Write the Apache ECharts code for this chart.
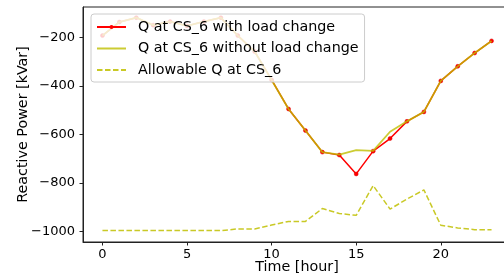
<!DOCTYPE html>
<html>
<head>
<meta charset="utf-8">
<script src="https://cdn.jsdelivr.net/npm/echarts@6/dist/echarts.min.js"></script>
<style>
html,body{margin:0;padding:0;background:#fff;}
#chart{width:504px;height:275px;}
</style>
</head>
<body>
<div id="chart"></div>
<script>
var hours = [0,1,2,3,4,5,6,7,8,9,10,11,12,13,14,15,16,17,18,19,20,21,22,23];
var qWithLoad = [-192,-136,-118,-149,-134,-152,-134,-118,-192,-258,-375,-495,-584,-673,-685,-763,-669,-617,-546,-507,-379,-319,-264,-214];
var qWithoutLoad = [-192,-136,-118,-149,-134,-152,-134,-118,-192,-258,-375,-495,-584,-673,-683,-665,-668,-589,-546,-507,-379,-319,-264,-214];
var qAllowable = [-997,-997,-997,-997,-997,-997,-997,-997,-990,-990,-974,-959,-959,-906,-926,-934,-811,-908,-867,-829,-975,-986,-993,-993];
var xTicks = [0,5,10,15,20];
var yTicks = [-1000,-800,-600,-400,-200];
var names = ['Q at CS_6 with load change','Q at CS_6 without load change','Allowable Q at CS_6'];

function pairs(v){ return hours.map(function(h,i){ return [h, v[i]]; }); }

var FONT = 'DejaVu Sans';
var chart = echarts.init(document.getElementById('chart'), null, {renderer:'canvas'});
chart.setOption({
  animation:false,
  backgroundColor:'#ffffff',
  grid:{left:83, right:-7, top:7, bottom:33, containLabel:false, outerBoundsMode:'none',
        show:true, borderColor:'#222', borderWidth:1, backgroundColor:'transparent'},
  legend:{
    orient:'vertical', left:91, top:14,
    padding:[6,6,5,5],
    itemWidth:29, itemHeight:5, itemGap:7.5,
    backgroundColor:'rgba(255,255,255,0.8)',
    borderColor:'#cccccc', borderWidth:1, borderRadius:3,
    textStyle:{fontFamily:FONT, fontSize:14.3, color:'#000', padding:[0,0,0,7]},
    data:[
      {name:names[0], itemStyle:{borderWidth:0}},
      {name:names[1], itemStyle:{opacity:0}},
      {name:names[2], itemStyle:{opacity:0}}
    ]
  },
  xAxis:{
    type:'value', min:-1.15, max:24.15,
    name:'Time [hour]', nameLocation:'middle', nameGap:18, nameMoveOverlap:false,
    nameTextStyle:{fontFamily:FONT, fontSize:14.3, color:'#000'},
    axisLine:{show:true, onZero:false, lineStyle:{color:'#222', width:1}},
    axisTick:{show:true, length:3.5, lineStyle:{color:'#222'}, customValues:xTicks},
    axisLabel:{fontFamily:FONT, fontSize:13, color:'#000', margin:6, customValues:xTicks},
    splitLine:{show:false}
  },
  yAxis:{
    type:'value', position:'left', min:-1044, max:-74,
    name:'Reactive Power [kVar]', nameLocation:'middle', nameGap:53, nameRotate:90, nameMoveOverlap:false,
    nameTextStyle:{fontFamily:FONT, fontSize:14.3, color:'#000'},
    axisLine:{show:true, onZero:false, lineStyle:{color:'#222', width:1}},
    axisTick:{show:true, length:3.5, lineStyle:{color:'#222'}, customValues:yTicks},
    axisLabel:{fontFamily:FONT, fontSize:13, color:'#000', margin:8, customValues:yTicks,
      formatter:function(v){ return String(v).replace('-', '\u2212'); }},
    splitLine:{show:false}
  },
  series:[{
    name:names[0], type:'line', data:pairs(qWithLoad),
    symbol:'circle', symbolSize:4, showSymbol:true,
    itemStyle:{color:'#ff0000', borderColor:'#dd0000', borderWidth:0.5},
    lineStyle:{color:'#ff0000', width:1.5}, z:2
  },{
    name:names[1], type:'line', data:pairs(qWithoutLoad),
    symbol:'none',
    itemStyle:{color:'#bfbf00'},
    lineStyle:{color:'#bfbf00', width:1.8, opacity:0.8}, z:3
  },{
    name:names[2], type:'line', data:pairs(qAllowable),
    symbol:'none',
    itemStyle:{color:'#bfbf00'},
    lineStyle:{color:'#bfbf00', width:1.5, type:[5.5,2.5], opacity:0.85}, z:3
  }]
});
</script>
</body>
</html>
